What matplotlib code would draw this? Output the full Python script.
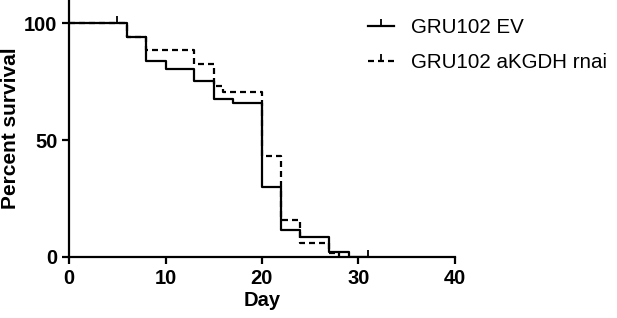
import matplotlib.pyplot as plt
from matplotlib.lines import Line2D

# --- data (Kaplan-Meier steps) ---
ev_days = [0, 6, 8, 10, 13, 15, 17, 20, 22, 24, 27, 29, 31]
ev_surv = [100, 94, 84, 80.3, 75.5, 67.8, 65.7, 30, 11.5, 8.5, 2.2, 0, 0]
ev_censor_days = [5, 31]
ev_censor_surv = [100, 0]

kg_days = [0, 6, 8, 13, 15, 16, 20, 22, 24, 27, 28]
kg_surv = [100, 94, 88.4, 82.4, 73, 70.5, 43.3, 16, 6, 1.5, 0]

labels = ["GRU102 EV", "GRU102 aKGDH rnai"]
x_ticks = [0, 10, 20, 30, 40]
y_ticks = [0, 50, 100]

plt.rcParams['font.family'] = ['Liberation Sans', 'DejaVu Sans']

DASH = (0, (2.7, 1.8))

fig = plt.figure(figsize=(6.17, 3.18), dpi=100)
ax = fig.add_axes([0.112, 0.192, 0.625, 0.808])

ax.step(ev_days, ev_surv, where='post', color='black', lw=1.6)
ax.plot(ev_censor_days, ev_censor_surv, ls='none', marker=2, ms=5, mew=1.3, color='black')
ax.step(kg_days, kg_surv, where='post', color='black', lw=1.6, ls=DASH)

ax.set_xlim(0, 40)
ax.set_ylim(0, 110)
ax.set_xticks(x_ticks)
ax.set_yticks(y_ticks)
ax.spines['top'].set_visible(False)
ax.spines['right'].set_visible(False)
for s in ['left', 'bottom']:
    ax.spines[s].set_linewidth(1.6)
ax.tick_params(direction='out', length=5, width=1.6, labelsize=14.5)
for lab in ax.get_xticklabels() + ax.get_yticklabels():
    lab.set_fontweight('bold')
ax.set_xlabel("Day", fontsize=14.5, fontweight='bold', labelpad=2)
ax.set_ylabel("Percent survival", fontsize=15, fontweight='bold', labelpad=3)

handles = [
    Line2D([], [], color='black', lw=1.6, marker=2, ms=5, mew=1.3),
    Line2D([], [], color='black', lw=1.6, ls=DASH, marker=2, ms=5, mew=1.3),
]
fig.legend(handles, labels, loc='upper left', bbox_to_anchor=(0.596, 0.942),
           frameon=False, fontsize=14.8, handlelength=1.3, handletextpad=0.8,
           labelspacing=0.75, numpoints=1, borderpad=0, borderaxespad=0)

fig.savefig("out.png", dpi=100)
